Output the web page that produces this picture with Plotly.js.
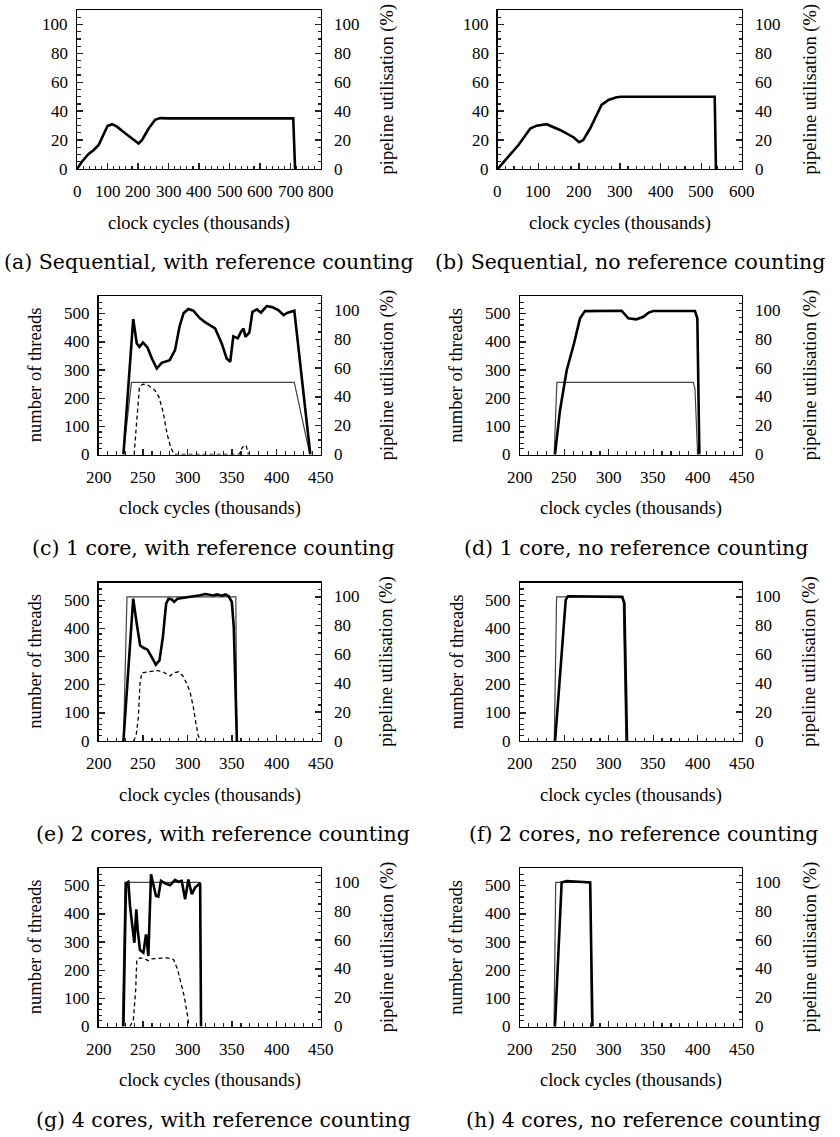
<!DOCTYPE html>
<html>
<head>
<meta charset="utf-8">
<script src="https://cdn.plot.ly/plotly-3.0.1.min.js"></script>
<style>
html,body{margin:0;padding:0;background:#fff;}
#chart{width:840px;height:1137px;}
</style>
</head>
<body>
<div id="chart"></div>
<script>
// ---------------- DATA ----------------
const captions = [
  "(a) Sequential, with reference counting",
  "(b) Sequential, no reference counting",
  "(c) 1 core, with reference counting",
  "(d) 1 core, no reference counting",
  "(e) 2 cores, with reference counting",
  "(f) 2 cores, no reference counting",
  "(g) 4 cores, with reference counting",
  "(h) 4 cores, no reference counting"
];
const xTitle = "clock cycles (thousands)";
const leftTitle = "number of threads";
const rightTitle = "pipeline utilisation (%)";

// tick labels
const xTicksA = [0, 100, 200, 300, 400, 500, 600, 700, 800];
const xTicksB = [0, 100, 200, 300, 400, 500, 600];
const xTicksCore = [200, 250, 300, 350, 400, 450];
const threadTicks = [0, 100, 200, 300, 400, 500];
const pctTicks = [0, 20, 40, 60, 80, 100];

// (a) sequential, with RC : pipeline utilisation (%)
const aX    = [0, 16, 38, 54, 71, 87, 100, 115, 131, 158, 185, 202, 213, 235, 256, 273, 300, 709, 715];
const aUtil = [0, 5, 10.4, 13, 16.6, 23.5, 29.7, 31, 29.3, 24.7, 20, 17.7, 20, 28, 34, 35.2, 35, 35, 0];
// (b) sequential, no RC
const bX    = [0, 22, 51, 80, 96, 120, 153, 186, 200, 210, 227, 243, 255, 272, 292, 304, 533, 536];
const bUtil = [0, 7.4, 16.6, 28, 30, 31, 27, 22, 18.5, 20, 28, 37.4, 44.3, 47.8, 49.6, 50, 50, 0];
// (c) 1 core, with RC
const cXUtil = [228, 239, 243, 246, 250, 255, 260, 265.5, 271, 280, 286, 291, 295.5, 301, 306.5, 314, 320, 331, 338.5, 344, 348, 351.5, 356.5, 360, 363, 365, 369.5, 373, 378, 382.5, 389, 395, 402, 408, 412.5, 420, 438];
const cUtil  = [0, 94, 77, 74.7, 77.8, 74.3, 66.6, 59.7, 63.6, 65.5, 72.4, 88.7, 98, 101, 99.8, 94.5, 91.7, 87.5, 77, 66.6, 64.3, 82, 80.6, 85, 87.5, 81.7, 84.5, 99, 100.7, 98.4, 103, 102.3, 100.3, 96.8, 98.4, 99.8, 0];
const cXThr  = [228, 237, 420, 437.5];
const cThr   = [0, 256, 256, 0];
const cXDash = [240, 243, 246, 250, 256, 263.5, 268, 273, 277, 281, 285, 358, 361, 364, 366, 368.5];
const cDash  = [0, 109, 240, 250, 246, 228, 204, 145, 74, 26, 0, 0, 22, 33, 30, 0];
// (d) 1 core, no RC
const dXUtil = [239.4, 245, 252.6, 260.8, 267.6, 273.2, 314.4, 318, 322, 331, 339, 345, 350, 397, 399.7, 402];
const dUtil  = [0, 30.6, 58.5, 77, 94.5, 99.5, 99.8, 97, 94.5, 93.8, 95.6, 98.5, 99.6, 99.6, 94.5, 0];
const dXThr  = [238.5, 241.5, 395, 397, 400];
const dThr   = [0, 256, 256, 235, 0];
// (e) 2 cores, with RC
const eXUtil = [228, 239, 243, 246.8, 250.5, 255, 260, 264.4, 268.5, 272.3, 276, 278.7, 282.4, 285, 288.8, 295.5, 306.8, 314.2, 319.9, 323.6, 329.2, 333, 338.6, 342.3, 346.1, 349.8, 352, 355.5];
const eUtil  = [0, 98.8, 81.3, 66.3, 64.7, 63.4, 58.1, 53, 55.9, 72, 95.3, 98.8, 98.3, 96.5, 98.8, 99.4, 100, 101.1, 102, 101.7, 101, 101.7, 100.8, 101.7, 100.6, 96.5, 79, 0];
const eXThr  = [228, 232, 354.3, 355.5];
const eThr   = [0, 512, 512, 0];
const eXDash = [239.2, 242.2, 244.8, 246.6, 248.5, 256, 265.5, 271, 278.6, 280.4, 284.2, 289.8, 294.6, 299, 303, 306.6, 309.6, 312.2, 315.2];
const eDash  = [0, 18, 84, 202, 242, 246, 250, 248, 234, 231, 242, 246, 232, 205, 173, 119, 60, 18, 0];
// (f) 2 cores, no RC
const fXUtil = [239.5, 251.5, 254, 300, 315, 317.5, 320.5];
const fUtil  = [0, 98, 100.5, 100.2, 100, 96, 0];
const fXThr  = [238.6, 241.2, 316.2, 319.2];
const fThr   = [0, 512, 512, 0];
// (g) 4 cores, with RC
const gXUtil = [228, 230.9, 233.5, 235.4, 238, 240.3, 242.5, 244, 246.6, 250.4, 253.4, 256, 259, 261.6, 264.6, 267.2, 270.2, 274.7, 280.4, 286, 289.8, 293.5, 297.3, 301, 304.8, 308.5, 312.2, 314.2, 315.2];
const gUtil  = [0, 99.4, 100.3, 83.7, 69.8, 58.1, 81.3, 67.4, 53, 51.2, 63.9, 48.9, 105.7, 97.6, 90.6, 90.2, 101.1, 99.4, 98, 101.8, 100.4, 101.1, 88.3, 102, 91.8, 96.4, 98.8, 99.4, 0];
const gXThr  = [226.8, 229.8, 314.2, 315.2];
const gThr   = [0, 512, 512, 0];
const gXDash = [235.4, 239.2, 241.8, 243, 246.6, 252.3, 256, 259.8, 265.5, 276.8, 284.3, 288.8, 292.6, 296.3, 300.1, 301.6];
const gDash  = [0, 24, 131, 238, 244, 240, 234, 240, 242, 244, 238, 203, 155, 108, 37, 0];
// (h) 4 cores, no RC
const hXUtil = [239.4, 246.9, 252.6, 279, 281.6];
const hUtil  = [0, 100, 101, 100, 0];
const hXThr  = [238.3, 240.2, 279.4, 280.5];
const hThr   = [0, 512, 512, 0];

// ---------------- LAYOUT ----------------
const W = 840, H = 1137;
const SERIF = "Liberation Serif, Times New Roman, serif";
const TICKLABELFONT = {family: SERIF, size: 17, color: "#000"};
const TITLEFONT = {family: SERIF, size: 18.5, color: "#000"};
const CAPFONT = {family: "DejaVu Serif, serif", size: 20.5, color: "#000"};

// frames in pixels: [left, right, top, bottom]
const frames = [
  [77, 321, 10, 169],
  [497.7, 742, 10, 169],
  [98.5, 321, 296, 454.5],
  [520, 742, 296, 454.5],
  [98.5, 321, 582.5, 741],
  [520, 742, 582.5, 741],
  [98.5, 321, 868, 1026.5],
  [520, 742, 868, 1026.5]
];
const capCenters = [209, 630, 213, 636, 223, 643, 223, 643];

const px = v => v / W;
const py = v => 1 - v / H;

const series = [
  {util: [aX, aUtil]},
  {util: [bX, bUtil]},
  {util: [cXUtil, cUtil], thr: [cXThr, cThr], dash: [cXDash, cDash]},
  {util: [dXUtil, dUtil], thr: [dXThr, dThr]},
  {util: [eXUtil, eUtil], thr: [eXThr, eThr], dash: [eXDash, eDash]},
  {util: [fXUtil, fUtil], thr: [fXThr, fThr]},
  {util: [gXUtil, gUtil], thr: [gXThr, gThr], dash: [gXDash, gDash]},
  {util: [hXUtil, hUtil], thr: [hXThr, hThr]}
];

const layout = {
  width: W, height: H,
  margin: {l: 0, r: 0, t: 0, b: 0},
  paper_bgcolor: "#fff", plot_bgcolor: "#fff",
  showlegend: false,
  annotations: []
};
const traces = [];

const lineStyle = {showline: true, linecolor: "#000", linewidth: 1.4, showgrid: false, zeroline: false, fixedrange: true, showticklabels: false};
const mkTick = () => ({ticks: "inside", ticklen: 6, tickwidth: 1.4, tickcolor: "#222"});
const mkMinor = (d) => ({ticks: "inside", ticklen: 3.5, tickwidth: 1.2, tickcolor: "#222", dtick: d});

function label(text, opts) {
  layout.annotations.push(Object.assign({text: String(text), showarrow: false, font: TICKLABELFONT,
    borderpad: 0}, opts));
}

frames.forEach((f, i) => {
  const n = i + 1;
  const xa = "xaxis" + (n === 1 ? "" : n);
  const yl = 2 * i + 1, yr = 2 * i + 2;
  const ylName = "yaxis" + (yl === 1 ? "" : yl);
  const yrName = "yaxis" + yr;
  const xRef = "x" + (n === 1 ? "" : n);
  const ylRef = "y" + (yl === 1 ? "" : yl);
  const yrRef = "y" + yr;
  const seq = i < 2;
  const xrange = i === 0 ? [0, 800] : (i === 1 ? [0, 600] : [200, 450]);
  layout[xa] = Object.assign({}, lineStyle, mkTick(), {
    domain: [px(f[0]), px(f[1])],
    range: xrange, anchor: ylRef, mirror: true,
    tick0: xrange[0], dtick: seq ? 100 : 50,
    minor: mkMinor(seq ? 20 : 10)
  });
  const leftRange = seq ? [0, 110] : [0, 563.2];
  layout[ylName] = Object.assign({}, lineStyle, mkTick(), {
    domain: [py(f[3]), py(f[2])],
    range: leftRange, anchor: xRef, side: "left",
    tick0: 0, dtick: seq ? 20 : 100,
    minor: mkMinor(seq ? 5 : 20)
  });
  layout[yrName] = Object.assign({}, lineStyle, mkTick(), {
    range: [0, 110], anchor: xRef, overlaying: ylRef, side: "right",
    tick0: 0, dtick: 20,
    minor: mkMinor(5)
  });

  // tick labels placed through the axes' own scales
  const xTicks = i === 0 ? xTicksA : (i === 1 ? xTicksB : xTicksCore);
  xTicks.forEach(v => label(v, {xref: xRef, yref: "paper", x: v, y: py(f[3] + 22.5), xanchor: "center", yanchor: "middle"}));
  const leftTicks = seq ? pctTicks : threadTicks;
  leftTicks.forEach(v => label(v, {xref: "paper", yref: ylRef, x: px(f[0] - 8), y: v, xanchor: "right", yanchor: "middle"}));
  pctTicks.forEach(v => label(v, {xref: "paper", yref: yrRef, x: px(f[1] + 12), y: v, xanchor: "left", yanchor: "middle"}));

  const s = series[i];
  if (seq) {
    traces.push({type: "scatter", mode: "lines", x: s.util[0], y: s.util[1], xaxis: xRef, yaxis: ylRef,
      line: {color: "#000", width: 2.6}, hoverinfo: "skip"});
    traces.push({type: "scatter", mode: "lines", x: s.util[0], y: s.util[1], xaxis: xRef, yaxis: yrRef,
      line: {color: "rgba(0,0,0,0)", width: 0.1}, hoverinfo: "skip"});
  } else {
    traces.push({type: "scatter", mode: "lines", x: s.thr[0], y: s.thr[1], xaxis: xRef, yaxis: ylRef,
      line: {color: "#444", width: 1.2}, hoverinfo: "skip"});
    if (s.dash) {
      traces.push({type: "scatter", mode: "lines", x: s.dash[0], y: s.dash[1], xaxis: xRef, yaxis: ylRef,
        line: {color: "#000", width: 1.3, dash: "4px,3px"}, hoverinfo: "skip"});
    }
    traces.push({type: "scatter", mode: "lines", x: s.util[0], y: s.util[1], xaxis: xRef, yaxis: yrRef,
      line: {color: "#000", width: 2.6}, hoverinfo: "skip"});
  }

  const midX = (f[0] + f[1]) / 2, midY = (f[2] + f[3]) / 2;
  layout.annotations.push({text: xTitle, xref: "paper", yref: "paper", x: px(midX), y: py(f[3] + 54),
    xanchor: "center", yanchor: "middle", showarrow: false, font: TITLEFONT});
  layout.annotations.push({text: rightTitle, xref: "paper", yref: "paper", x: px(i % 2 === 0 ? 387 : 810), y: py(midY),
    xanchor: "center", yanchor: "middle", showarrow: false, textangle: -90, font: TITLEFONT});
  if (!seq) {
    layout.annotations.push({text: leftTitle, xref: "paper", yref: "paper", x: px(i % 2 === 0 ? 35 : 456.5), y: py(midY),
      xanchor: "center", yanchor: "middle", showarrow: false, textangle: -90, font: TITLEFONT});
  }
  layout.annotations.push({text: captions[i], xref: "paper", yref: "paper", x: px(capCenters[i]), y: py(f[3] + 93),
    xanchor: "center", yanchor: "middle", showarrow: false, font: CAPFONT});
});

Plotly.newPlot("chart", traces, layout, {staticPlot: true, displayModeBar: false});
</script>
</body>
</html>
